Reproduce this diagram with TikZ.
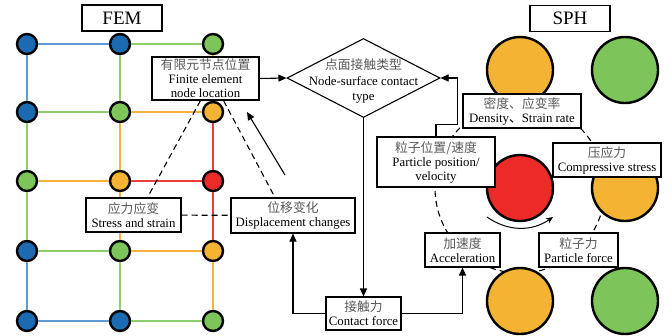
\documentclass[tikz,border=0pt]{standalone}
\usepackage{fontspec}
\setmainfont{Liberation Serif}
\newfontfamily\cjk{Noto Sans CJK SC}
\usetikzlibrary{calc, arrows.meta, shapes.geometric}

\definecolor{fblue}{HTML}{1B6AB2}
\definecolor{fgreen}{HTML}{7DC55B}
\definecolor{forange}{HTML}{F4B332}
\definecolor{fred}{HTML}{EC2A27}
\definecolor{lblue}{HTML}{5C9BD3}
\definecolor{lgreen}{HTML}{8FCE6C}
\definecolor{lorange}{HTML}{F6B13A}
\definecolor{lred}{HTML}{EE3B3B}

\newcommand{\cnline}[1]{{\cjk\color{black!65}#1}}

\begin{document}
\begin{tikzpicture}[x=1pt, y=-1pt,
    fnode/.style={circle, draw, line width=2.4pt, minimum size=20pt, inner sep=0pt},
    particle/.style={circle, draw, line width=2.4pt, minimum size=66pt, inner sep=0pt},
    title/.style={draw, line width=1.1pt, fill=white, font=\fontsize{19}{20}\selectfont, minimum width=80pt, minimum height=26pt},
    box/.style={draw, line width=1.1pt, fill=white, align=center, inner sep=1pt, font=\fontsize{12.8}{14}\selectfont},
    flow/.style={line width=1.1pt, -{Triangle[length=8pt, width=7pt]}},
    link/.style={line width=1.1pt, dash pattern=on 6pt off 4pt},
    edge/.style={line width=1.5pt}]
    \useasboundingbox (0,0) rectangle (672,335);

    % FEM grid nodes
    \node[fnode, fill=fblue] (g00) at (27,44) {};
    \node[fnode, fill=fblue] (g01) at (120,44) {};
    \node[fnode, fill=fgreen] (g02) at (213,44) {};
    \node[fnode, fill=fblue] (g10) at (27,112) {};
    \node[fnode, fill=fgreen] (g11) at (120,112) {};
    \node[fnode, fill=forange] (g12) at (213,112) {};
    \node[fnode, fill=fgreen] (g20) at (27,181) {};
    \node[fnode, fill=forange] (g21) at (120,181) {};
    \node[fnode, fill=fred] (g22) at (213,181) {};
    \node[fnode, fill=fblue] (g30) at (27,251) {};
    \node[fnode, fill=fgreen] (g31) at (120,251) {};
    \node[fnode, fill=forange] (g32) at (213,251) {};
    \node[fnode, fill=fblue] (g40) at (27,321) {};
    \node[fnode, fill=fblue] (g41) at (120,321) {};
    \node[fnode, fill=fgreen] (g42) at (213,321) {};

    % FEM grid edges
    \draw[edge, lblue] (g00) -- (g01);
    \draw[edge, lgreen] (g01) -- (g02);
    \draw[edge, lgreen] (g10) -- (g11);
    \draw[edge, lorange] (g11) -- (g12);
    \draw[edge, lorange] (g20) -- (g21);
    \draw[edge, lred] (g21) -- (g22);
    \draw[edge, lgreen] (g30) -- (g31);
    \draw[edge, lorange] (g31) -- (g32);
    \draw[edge, lblue] (g40) -- (g41);
    \draw[edge, lgreen] (g41) -- (g42);
    \draw[edge, lblue] (g00) -- (g10);
    \draw[edge, lgreen] (g10) -- (g20);
    \draw[edge, lgreen] (g20) -- (g30);
    \draw[edge, lblue] (g30) -- (g40);
    \draw[edge, lgreen] (g01) -- (g11);
    \draw[edge, lorange] (g11) -- (g21);
    \draw[edge, lorange] (g21) -- (g31);
    \draw[edge, lgreen] (g31) -- (g41);
    \draw[edge, lorange] (g02) -- (g12);
    \draw[edge, lred] (g12) -- (g22);
    \draw[edge, lred] (g22) -- (g32);
    \draw[edge, lorange] (g32) -- (g42);

    % SPH particles
    \coordinate (mid) at (520,188);
    \draw[link] (mid) circle (85pt);
    \node[particle, fill=forange] (p1) at (520,70) {};
    \node[particle, fill=fgreen] (p2) at (625,70) {};
    \node[particle, fill=fred] (p3) at (mid) {};
    \node[particle, fill=forange] (p4) at (625,188) {};
    \node[particle, fill=forange] (p5) at (520,301) {};
    \node[particle, fill=fgreen] (p6) at (625,301) {};
    \draw[line width=1pt, -{Stealth[length=7pt, width=6pt]}] ([shift={(-33,29)}]mid) to[bend right=35] ([shift={(33,29)}]mid);

    \node[title] (fem) at (122,18) {FEM};
    \node[title] (sph) at (570,18.5) {SPH};

    % boxes
    \node[box, minimum width=107pt, minimum height=43pt] (loc) at (205.5,78.5) {\cnline{有限元节点位置}\\Finite element\\node location};
    \node[diamond, draw, line width=1.1pt, minimum width=153pt, minimum height=79pt, inner sep=0pt] (type) at (363.5,78) {};
    \node[align=center, font=\fontsize{12.8}{15.5}\selectfont] at (363.5,81) {\cnline{点面接触类型}\\Node-surface contact\\type};
    \node[box, minimum width=95pt, minimum height=34pt] (stress) at (133.5,215) {\cnline{应力应变}\\Stress and strain};
    \node[box, minimum width=124pt, minimum height=35pt] (disp) at (293,215.5) {\cnline{位移变化}\\Displacement changes};
    \node[box, minimum width=75pt, minimum height=33pt] (force) at (363.5,313.5) {\cnline{接触力}\\Contact force};
    \node[box, minimum width=75pt, minimum height=34pt] (acc) at (462.5,250) {\cnline{加速度}\\Acceleration};
    \node[box, minimum width=79pt, minimum height=34pt] (pforce) at (578.5,250) {\cnline{粒子力}\\Particle force};
    \node[box, minimum width=118pt, minimum height=50pt] (ppos) at (436,162) {\cnline{粒子位置/速度}\\Particle position/\\velocity};
    \node[box, minimum width=118pt, minimum height=34pt] (dens) at (522,111) {\cnline{密度、应变率}\\Density{\cjk 、}Strain rate};
    \node[box, minimum width=108pt, minimum height=34pt] (comp) at (607,160) {\cnline{压应力}\\Compressive stress};

    % connectors
    \draw[flow] (loc.east) -- (type.west);
    \draw[flow] (type.south) -- (force.north);
    \draw[flow] (force.west) -| (disp.south);
    \draw[flow] (force.east) -| (acc.south);
    \draw[flow] (ppos.north) -- ++(0,-12) -| ([xshift=17pt]type.east) -- (type.east);
    \draw[link] ([xshift=-5pt]loc.south) -- ([xshift=14pt]stress.north);
    \draw[link] ([xshift=18pt]loc.south) -- ([xshift=-18pt]disp.north);
    \draw[link] (stress) -- (disp);
    \coordinate (mv1) at (285,175);
    \coordinate (mv2) at (247,112);
    \draw[flow] (mv1) -- (mv2);
\end{tikzpicture}
\end{document}
